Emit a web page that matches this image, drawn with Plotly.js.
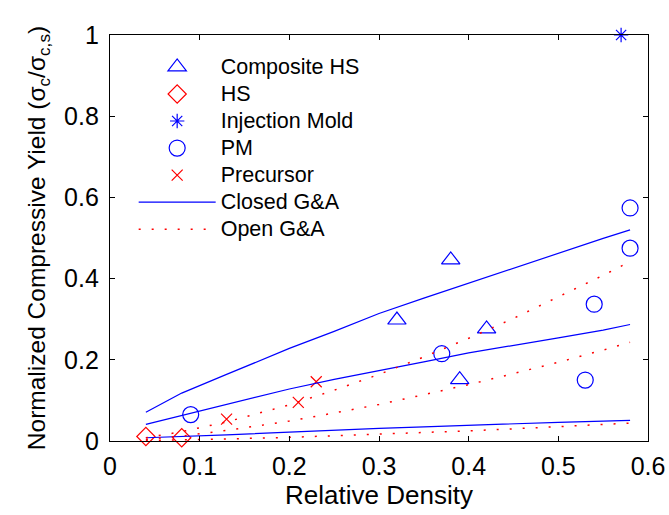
<!DOCTYPE html>
<html>
<head>
<meta charset="utf-8">
<script src="https://cdn.plot.ly/plotly-3.0.1.min.js"></script>
<style>html,body{margin:0;padding:0;background:#fff;}#chart{width:669px;height:515px;}</style>
</head>
<body>
<div id="chart"></div>
<script>
// Data
var compositeX = [0.32, 0.38, 0.39, 0.42];
var compositeY = [0.298, 0.446, 0.151, 0.276];
var hsX = [0.04, 0.08];
var hsY = [0.011, 0.008];
var injX = [0.57];
var injY = [1.0];
var pmX = [0.09, 0.37, 0.53, 0.54, 0.58, 0.58];
var pmY = [0.065, 0.215, 0.150, 0.337, 0.475, 0.574];
var precX = [0.13, 0.21, 0.23];
var precY = [0.054, 0.095, 0.146];

var modelX = [0.04, 0.08, 0.13, 0.2, 0.25, 0.3, 0.35, 0.4, 0.45, 0.5, 0.55, 0.58];
var closedHigh = [0.071, 0.118, 0.164, 0.228, 0.270, 0.314, 0.352, 0.389, 0.426, 0.462, 0.499, 0.520];
var closedMid  = [0.041, 0.063, 0.091, 0.128, 0.152, 0.173, 0.195, 0.217, 0.235, 0.254, 0.273, 0.287];
var closedLow  = [0.008, 0.011, 0.015, 0.022, 0.027, 0.031, 0.035, 0.039, 0.043, 0.046, 0.049, 0.051];
var openHigh = [0.008, 0.023, 0.047, 0.089, 0.125, 0.164, 0.207, 0.253, 0.302, 0.354, 0.408, 0.442];
var openMid  = [0.004, 0.012, 0.026, 0.049, 0.069, 0.090, 0.114, 0.139, 0.166, 0.194, 0.224, 0.243];
var openLow  = [0.001, 0.002, 0.005, 0.009, 0.013, 0.016, 0.021, 0.025, 0.030, 0.035, 0.041, 0.044];

var seriesNames = ['Composite HS', 'HS', 'Injection Mold', 'PM', 'Precursor', 'Closed G&A', 'Open G&A'];
var xTicks = [0, 0.1, 0.2, 0.3, 0.4, 0.5, 0.6];
var xTickText = ['0', '0.1', '0.2', '0.3', '0.4', '0.5', '0.6'];
var yTicks = [0, 0.2, 0.4, 0.6, 0.8, 1];
var yTickText = ['0', '0.2', '0.4', '0.6', '0.8', '1'];

var BLUE = '#0000ff', RED = '#ff0000';
var FONT = 'Liberation Sans, Arial, sans-serif';

function label(s) { return '<span style="font-size:21.5px">' + s + '</span>'; }

function pts(name, x, y, sym, size, color) {
  return {x: x, y: y, name: label(name), type: 'scatter', mode: 'markers', cliponaxis: false,
    marker: {symbol: sym, size: size, color: color, line: {color: color, width: 1.2}}};
}
function ln(name, x, y, color, dash, show) {
  return {x: x, y: y, name: label(name), type: 'scatter', mode: 'lines', legendgroup: name, showlegend: show,
    line: {color: color, width: dash ? 1.5 : 1.2, dash: dash || 'solid'}};
}

var traces = [
  pts(seriesNames[0], compositeX, compositeY, 'triangle-up-open', 16, BLUE),
  pts(seriesNames[1], hsX, hsY, 'diamond-open', 14, RED),
  pts(seriesNames[2], injX, injY, 'asterisk-open', 12, BLUE),
  pts(seriesNames[3], pmX, pmY, 'circle-open', 16, BLUE),
  pts(seriesNames[4], precX, precY, 'x-thin-open', 11, RED),
  ln(seriesNames[5], modelX, closedHigh, BLUE, null, true),
  ln(seriesNames[5], modelX, closedMid, BLUE, null, false),
  ln(seriesNames[5], modelX, closedLow, BLUE, null, false),
  ln(seriesNames[6], modelX, openHigh, RED, '2px,11px', true),
  ln(seriesNames[6], modelX, openMid, RED, '2px,11px', false),
  ln(seriesNames[6], modelX, openLow, RED, '2px,11px', false)
];

var axisCommon = {showline: true, linecolor: '#000', linewidth: 1.2, mirror: 'ticks', ticks: 'inside',
  ticklen: 5, tickwidth: 1, tickcolor: '#000', showgrid: false, zeroline: false,
  tickfont: {family: FONT, size: 25, color: '#000'}};

var layout = {
  width: 669, height: 515,
  margin: {l: 110, r: 21, t: 35, b: 74},
  paper_bgcolor: '#fff', plot_bgcolor: '#fff',
  font: {family: FONT, color: '#000'},
  xaxis: Object.assign({}, axisCommon, {range: [0, 0.6], tickvals: xTicks, ticktext: xTickText,
    ticklabelstandoff: 3,
    title: {text: 'Relative Density', font: {family: FONT, size: 26, color: '#000'}, standoff: 5}}),
  yaxis: Object.assign({}, axisCommon, {range: [0, 1], tickvals: yTicks, ticktext: yTickText,
    ticklabelstandoff: 5,
    title: {text: 'Normalized Compressive Yield (σ<sub>c</sub>/σ<sub>c,s</sub>)', font: {family: FONT, size: 24.5, color: '#000'}, standoff: 11}}),
  showlegend: true,
  legend: {x: 0.044, y: 0.967, xanchor: 'left', yanchor: 'top', bgcolor: 'rgba(0,0,0,0)', borderwidth: 0,
    font: {family: FONT, size: 18.5, color: '#000'}, itemwidth: 77, tracegroupgap: 0, traceorder: 'normal'}
};

Plotly.newPlot('chart', traces, layout, {displayModeBar: false, staticPlot: true});
</script>
</body>
</html>
